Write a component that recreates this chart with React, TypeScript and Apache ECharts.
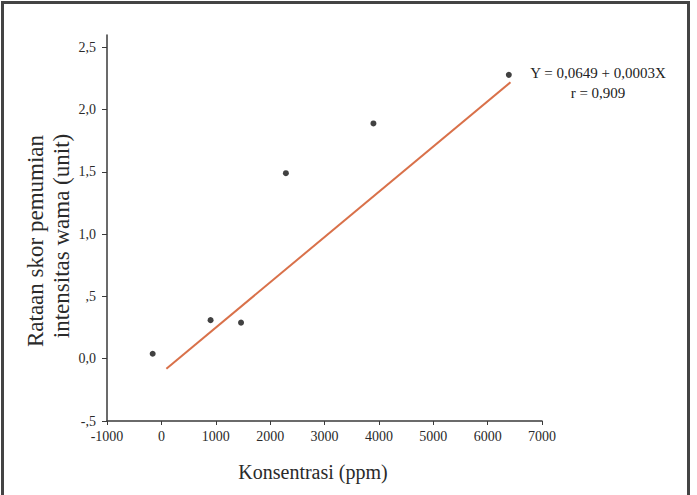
import React, { useEffect, useRef } from "react";
import * as echarts from "echarts";

const concentration = [-160, 905, 1465, 2290, 3900, 6390];
const score = [0.04, 0.31, 0.29, 1.49, 1.89, 2.28];
const fitLineX = [92, 6420];
const fitLineY = [-0.08, 2.22];
const yTicks = [-0.5, 0, 0.5, 1, 1.5, 2, 2.5];
const yTickLabels = ["-,5", "0,0", ",5", "1,0", "1,5", "2,0", "2,5"];
const xTicks = [-1000, 0, 1000, 2000, 3000, 4000, 5000, 6000, 7000];
const yTitleLines = ["Rataan skor pemumian", "intensitas wama (unit)"];
const xTitle = "Konsentrasi (ppm)";
const equationLines = ["Y = 0,0649 + 0,0003X", "r = 0,909"];

const FONT = "'Liberation Serif', 'DejaVu Serif', serif";

export default function App() {
  const ref = useRef<HTMLDivElement>(null);
  useEffect(() => {
    document.body.style.margin = "0";
    const chart = echarts.init(ref.current!, null, { renderer: "svg" });
    const scatterData = concentration.map((x, i) => [x, score[i]]);
    const lineData = fitLineX.map((x, i) => [x, fitLineY[i]]);
    chart.setOption({
      animation: false,
      backgroundColor: "#ffffff",
      grid: { left: 107, right: 155, top: 35, bottom: 74 },
      xAxis: {
        type: "value",
        min: -1000,
        max: 7000,
        interval: 1000,
        splitLine: { show: false },
        axisLine: { onZero: false, lineStyle: { color: "#3a3a3a", width: 1.5 } },
        axisTick: { show: true, length: 4, lineStyle: { color: "#3a3a3a" }, customValues: xTicks },
        axisLabel: {
          customValues: xTicks,
          color: "#2a2a2a",
          fontFamily: FONT,
          fontSize: 14,
          margin: 8,
          formatter: (v: number) => String(v),
        },
      },
      yAxis: {
        type: "value",
        min: -0.5,
        max: 2.6,
        splitLine: { show: false },
        axisLine: { show: true, onZero: false, lineStyle: { color: "#3a3a3a", width: 1.5 } },
        axisTick: { show: true, length: 5, lineStyle: { color: "#3a3a3a" }, customValues: yTicks },
        axisLabel: {
          customValues: yTicks,
          color: "#2a2a2a",
          fontFamily: FONT,
          fontSize: 14,
          margin: 11,
          formatter: (v: number) => {
            const idx = yTicks.findIndex((t) => Math.abs(t - v) < 1e-6);
            return idx >= 0 ? yTickLabels[idx] : "";
          },
        },
      },
      series: [
        {
          type: "line",
          data: lineData,
          symbol: "none",
          lineStyle: { color: "#d9714a", width: 2 },
          z: 2,
        },
        {
          type: "scatter",
          data: scatterData,
          symbol: "circle",
          symbolSize: 6,
          itemStyle: { color: "#111" },
          z: 3,
        },
      ],
      graphic: [
        {
          type: "rect",
          shape: { x: 2.5, y: 2.5, width: 686, height: 500 },
          style: { fill: "none", stroke: "#444", lineWidth: 3 },
          silent: true,
        },
        {
          type: "text",
          x: 35,
          y: 241,
          rotation: Math.PI / 2,
          style: {
            text: yTitleLines[0],
            fontFamily: FONT,
            fontSize: 23,
            fill: "#2a2a2a",
            textAlign: "center",
            textVerticalAlign: "middle",
          },
        },
        {
          type: "text",
          x: 61,
          y: 236,
          rotation: Math.PI / 2,
          style: {
            text: yTitleLines[1],
            fontFamily: FONT,
            fontSize: 23,
            fill: "#2a2a2a",
            textAlign: "center",
            textVerticalAlign: "middle",
          },
        },
        {
          type: "text",
          x: 313,
          y: 472,
          style: {
            text: xTitle,
            fontFamily: FONT,
            fontSize: 20,
            fill: "#2a2a2a",
            textAlign: "center",
            textVerticalAlign: "middle",
          },
        },
        {
          type: "text",
          x: 598,
          y: 73,
          style: {
            text: equationLines[0],
            fontFamily: FONT,
            fontSize: 15,
            fill: "#222",
            textAlign: "center",
            textVerticalAlign: "middle",
          },
        },
        {
          type: "text",
          x: 598,
          y: 93,
          style: {
            text: equationLines[1],
            fontFamily: FONT,
            fontSize: 15,
            fill: "#222",
            textAlign: "center",
            textVerticalAlign: "middle",
          },
        },
      ],
    });
    return () => chart.dispose();
  }, []);
  return <div ref={ref} style={{ width: 697, height: 495 }} />;
}
